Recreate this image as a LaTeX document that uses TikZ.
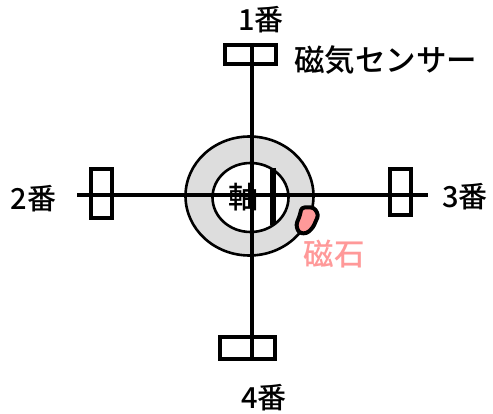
\documentclass[tikz,border=0pt]{standalone}
\usepackage{fontspec}
\newfontfamily\cjk{Noto Sans CJK JP Medium}
\definecolor{ringgray}{HTML}{DDDDDD}
\definecolor{magnetpink}{HTML}{FF9999}
\begin{document}
\begin{tikzpicture}[x=1pt,y=-1pt,
  sensor/.style={draw=black,line width=4pt,fill=white,inner sep=0pt,outer sep=0pt,minimum width=#1},
  axisline/.style={draw=black,line width=4pt},
  lbl/.style={font=\cjk\fontsize{29}{29}\selectfont,inner sep=0pt,text=black},
]
\useasboundingbox (0,0) rectangle (493,414);
\path[fill=white] (0,0) rectangle (493,414);
% ring
\path[fill=ringgray,draw=black,line width=2.6pt] (249.5,196) ellipse [x radius=64,y radius=59.5];
\path[fill=white,draw=black,line width=2.6pt] (250.5,197.5) ellipse [x radius=38,y radius=34.5];
% sensors
\node[sensor=51pt,minimum height=19pt] (s1) at (250.5,54.5) {};
\node[sensor=21pt,minimum height=49pt] (s2) at (101.5,193.5) {};
\node[sensor=21pt,minimum height=46pt] (s3) at (400.5,192) {};
\node[sensor=55pt,minimum height=22pt] (s4) at (247.5,348) {};
\coordinate (hl) at (77,195);
\coordinate (hr) at (428,195);
\draw[axisline] (251.5,43) -- (251.5,360);
\draw[axisline] (hl) -- (hr);
% shaft text and bar
\node[lbl,font=\cjk\fontsize{30}{30}\selectfont] (shaft) at (243,197) {軸};
\coordinate (bart) at (272.5,168);
\coordinate (barb) at (272.5,225);
\draw[draw=black,line width=6pt] (bart) -- (barb);
% magnet
\path[fill=magnetpink,draw=black,line width=4pt,line join=round,rounded corners=3pt]
  (301.5,207.5) -- (314,207.5) -- (318.5,215) -- (313,227.5) -- (306.7,233.5) -- (299,233) -- (296,225) -- (300,215) -- cycle;
% labels
\node[lbl] (l1) at (261,20) {1番};
\node[lbl] (l2) at (33.5,199) {2番};
\node[lbl] (l3) at (465,197) {3番};
\node[lbl] (l4) at (264,398) {4番};
\node[lbl,font=\cjk\fontsize{30.5}{30.5}\selectfont] (lsensor) at (385.5,60) {磁気センサー};
\node[lbl,font=\cjk\fontsize{30.5}{30.5}\selectfont,text=magnetpink] (lmag) at (334,254) {磁石};
\end{tikzpicture}
\end{document}
